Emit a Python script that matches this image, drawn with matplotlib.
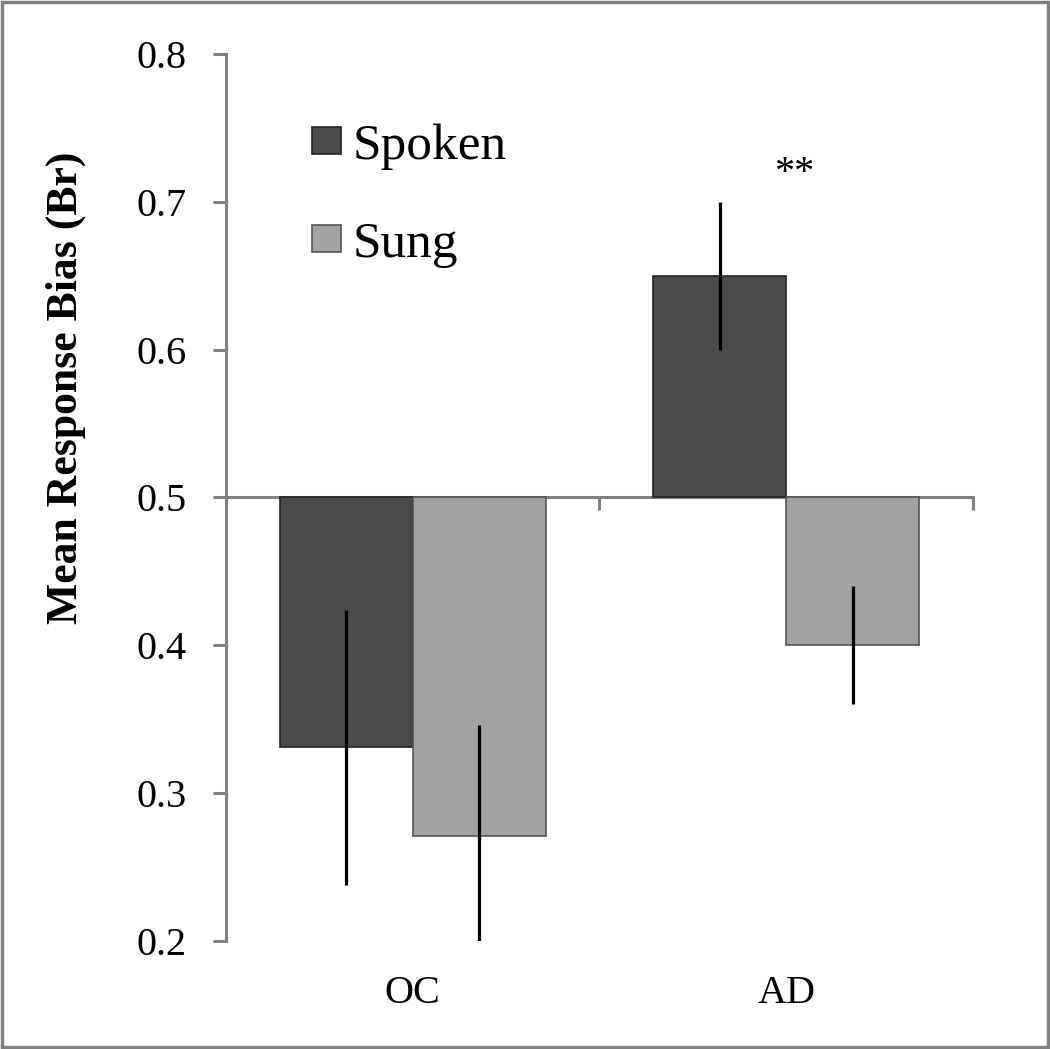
import numpy as np
import matplotlib.pyplot as plt
from matplotlib.patches import Rectangle

plt.rcParams['font.family'] = ['Liberation Serif', 'DejaVu Serif']

# data
groups = ["OC", "AD"]
spoken = [0.331, 0.650]
sung = [0.271, 0.400]
spoken_err = [0.093, 0.050]
sung_err = [0.075, 0.040]
baseline = 0.5

fig = plt.figure(figsize=(10.5, 10.49), dpi=100)
ax = fig.add_axes([0.2152, 0.1030, 0.7115, 0.8455])

x = np.arange(len(groups))
w = 0.356
grey = "#808080"

ax.bar(x - w / 2, np.array(spoken) - baseline, w, bottom=baseline,
       color="#4b4b4b", edgecolor="#222222", linewidth=1.2, label="Spoken", zorder=2)
ax.bar(x + w / 2, np.array(sung) - baseline, w, bottom=baseline,
       color="#a2a2a2", edgecolor="#555555", linewidth=1.2, label="Sung", zorder=2)
ax.errorbar(x - w / 2, spoken, yerr=spoken_err, fmt="none", ecolor="black",
            elinewidth=2.3, capsize=0, zorder=3)
ax.errorbar(x + w / 2, sung, yerr=sung_err, fmt="none", ecolor="black",
            elinewidth=2.3, capsize=0, zorder=3)

ax.set_xlim(-0.5, 1.5)
ax.set_ylim(0.2, 0.8)
ax.set_yticks([0.2, 0.3, 0.4, 0.5, 0.6, 0.7, 0.8])
ax.set_yticklabels(["0.2", "0.3", "0.4", "0.5", "0.6", "0.7", "0.8"])
ax.set_xticks([-0.5, 0.5, 1.5])
ax.set_xticklabels([])

for s in ["top", "right"]:
    ax.spines[s].set_visible(False)
ax.spines["left"].set_color(grey)
ax.spines["left"].set_linewidth(2.2)
ax.spines["bottom"].set_position(("data", baseline))
ax.spines["bottom"].set_color(grey)
ax.spines["bottom"].set_linewidth(2.2)
ax.spines["bottom"].set_zorder(1)
ax.tick_params(axis="both", direction="out", length=9.5, width=2.2, color=grey)
ax.tick_params(axis="y", labelsize=29, pad=19)

for xi, g in zip(x, groups):
    ax.text(xi, -0.059, g, transform=ax.get_xaxis_transform(),
            ha="center", va="center", fontsize=29)

fig.text(66 / 1050, 1 - 388 / 1049, "Mean Response Bias (Br)", rotation=90,
         ha="center", va="center", fontsize=31.5, fontweight="bold")
ax.text(x[1] + 0.02, 0.719, "**", ha="center", va="center", fontsize=29)

leg = ax.legend(loc="upper left", bbox_to_anchor=(0.115, 0.922), frameon=False,
                fontsize=37, handlelength=0.57, handleheight=0.42, handletextpad=0.22,
                labelspacing=1.0, borderpad=0, borderaxespad=0)
for h in leg.legend_handles:
    h.set_linewidth(1.2)

fig.patches.append(Rectangle((0.002, 0.002), 0.996, 0.996, transform=fig.transFigure,
                             fill=False, edgecolor=grey, linewidth=2.5))

fig.savefig("out.png", dpi=100)
